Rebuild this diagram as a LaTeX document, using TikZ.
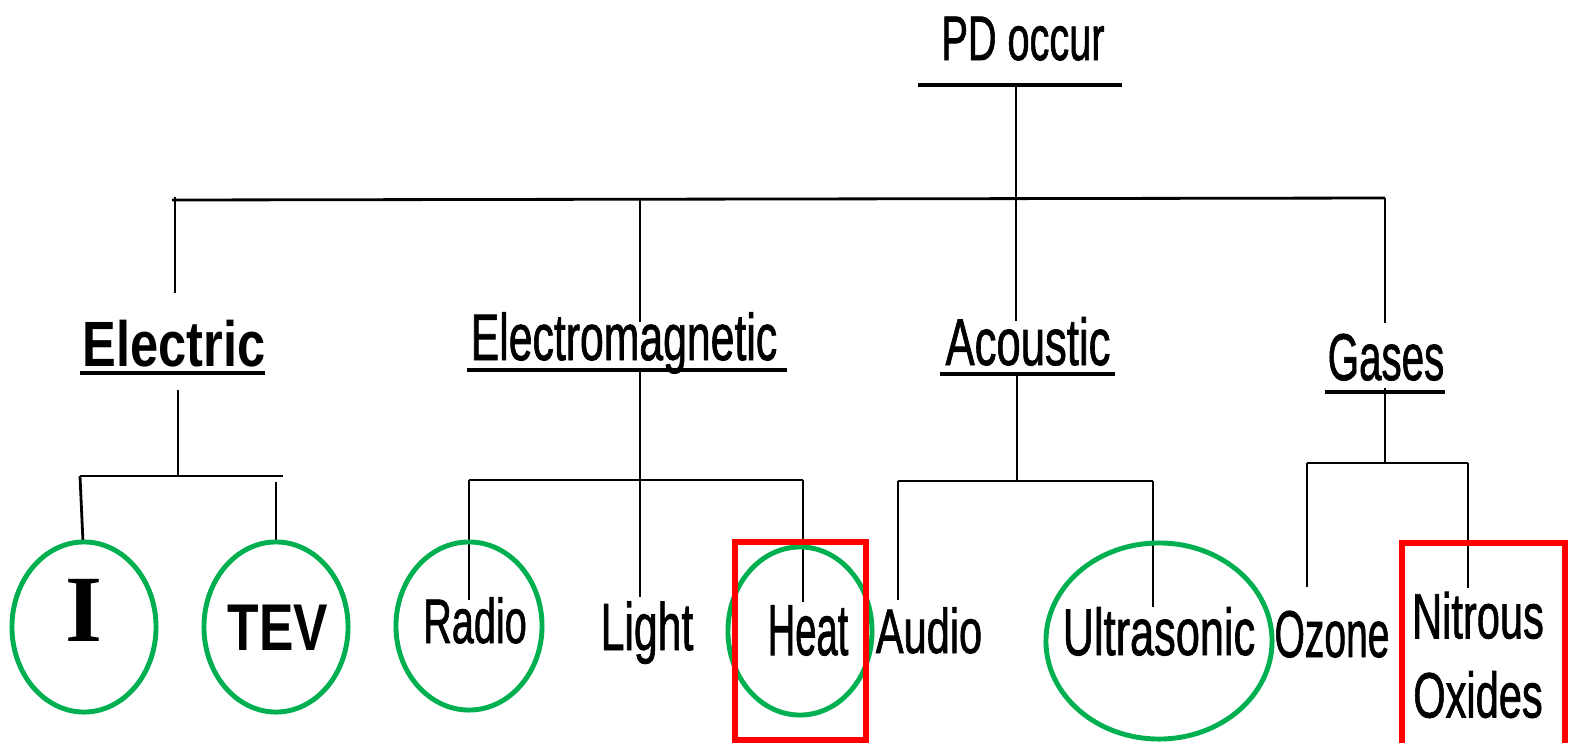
\documentclass[tikz,border=0pt]{standalone}
\usepackage{graphicx}
\usepackage{fontspec}
\setmainfont{Liberation Sans}
\newfontfamily\plainsans{Liberation Sans}[FakeBold=1.4]
\newfontfamily\iserif{Liberation Serif}
\usetikzlibrary{positioning}
\definecolor{ringgreen}{RGB}{0,176,80}
\definecolor{boxred}{RGB}{255,0,0}
\newcommand{\squeeze}[2]{\scalebox{#1}[1]{#2}}
\newcommand{\pxsize}[1]{\fontsize{#1pt}{#1pt}\selectfont}

\begin{document}
\begin{tikzpicture}[x=0.01cm,y=-0.01cm,
  link/.style={black,line width=0.8pt},
  uline/.style={black,line width=1.1pt},
  ring/.style={draw=ringgreen,line width=1.4pt},
  redbox/.style={draw=boxred,line width=1.5pt},
  lbl/.style={inner sep=0pt,anchor=base,text=black}]
\useasboundingbox (0,0) rectangle (1569,742);

\node[lbl,font=\plainsans\pxsize{17.9}] (pd) at (1023,60) {\squeeze{0.63}{PD occur}};
\node[lbl,font=\pxsize{18.2}\bfseries] (electric) at (174,366) {\squeeze{0.79}{Electric}};
\node[lbl,font=\plainsans\pxsize{18.7}] (em) at (624,360) {\squeeze{0.65}{Electromagnetic}};
\node[lbl,font=\plainsans\pxsize{18.8}] (acoustic) at (1028,365) {\squeeze{0.66}{Acoustic}};
\node[lbl,font=\plainsans\pxsize{18.8}] (gases) at (1386,380) {\squeeze{0.61}{Gases}};

\node[lbl,font=\iserif\pxsize{27}\bfseries] (current) at (84,641) {I};
\node[lbl,font=\pxsize{18.8}\bfseries] (tev) at (278,650) {\squeeze{0.78}{TEV}};
\node[lbl,font=\plainsans\pxsize{17.9}] (radio) at (475,643) {\squeeze{0.63}{Radio}};
\node[lbl,font=\plainsans\pxsize{19}] (light) at (647,650) {\squeeze{0.64}{Light}};
\node[lbl,font=\plainsans\pxsize{20.5}] (heat) at (808,655) {\squeeze{0.53}{Heat}};
\node[lbl,font=\plainsans\pxsize{17.9}] (audio) at (929,653) {\squeeze{0.66}{Audio}};
\node[lbl,font=\plainsans\pxsize{18.8}] (ultra) at (1159,655) {\squeeze{0.655}{Ultrasonic}};
\node[lbl,font=\plainsans\pxsize{18.8}] (ozone) at (1332,657) {\squeeze{0.59}{Ozone}};
\node[inner sep=0pt,align=center,text=black,font=\plainsans\fontsize{18.2pt}{22.5pt}\selectfont] (nitrous) at (1478,655)
  {\squeeze{0.65}{Nitrous}\\\squeeze{0.65}{Oxides}};

\draw[uline] (918,85) -- (1122,85);
\draw[uline] (80,373) -- (265,373);
\draw[uline] (467,370) -- (787,370);
\draw[uline] (940,374) -- (1115,374);
\draw[uline] (1325,392) -- (1445,392);

\coordinate (pdU) at (1016,85);
\coordinate (busL) at (172,200);
\coordinate (busR) at (1385,198);
\draw[link] (pdU) -- (1016,321);
\draw[link] (busL) -- (busR);
\draw[link] (175,197) -- (175,293);
\draw[link] (640,199) -- (640,322);
\draw[link] (busR) -- (1385,323);

\coordinate (elBus) at (178,476);
\draw[link] (178,390) -- (elBus);
\draw[link] (80,476) -- (283,476);
\draw[link] (80,476) -- (83,542);
\draw[link] (276,482) -- (276,542);

\coordinate (emBus) at (640,480);
\draw[link] (640,370) -- (emBus) -- (640,597);
\draw[link] (469,480) -- (803,480);
\draw[link] (469,480) -- (469,600);
\draw[link] (803,480) -- (803,602);

\coordinate (acBus) at (1017,481);
\draw[link] (1017,374) -- (acBus);
\draw[link] (898,481) -- (1153,481);
\draw[link] (898,481) -- (898,600);
\draw[link] (1153,481) -- (1153,607);

\coordinate (gaBus) at (1385,463);
\draw[link] (1385,388) -- (gaBus);
\draw[link] (1307,463) -- (1468,463);
\draw[link] (1307,463) -- (1307,587);
\draw[link] (1468,463) -- (1468,588);

\draw[ring] (84,627) ellipse [x radius=0.72cm, y radius=0.85cm];
\draw[ring] (276,627) ellipse [x radius=0.72cm, y radius=0.85cm];
\draw[ring] (469,626) ellipse [x radius=0.73cm, y radius=0.84cm];
\draw[ring] (800,631) ellipse [x radius=0.72cm, y radius=0.84cm];
\draw[ring] (1159,641) ellipse [x radius=1.13cm, y radius=0.98cm];

\draw[redbox] (735,542) rectangle (866,740);
\draw[redbox] (1402,543) rectangle (1565,760);
\end{tikzpicture}
\end{document}
